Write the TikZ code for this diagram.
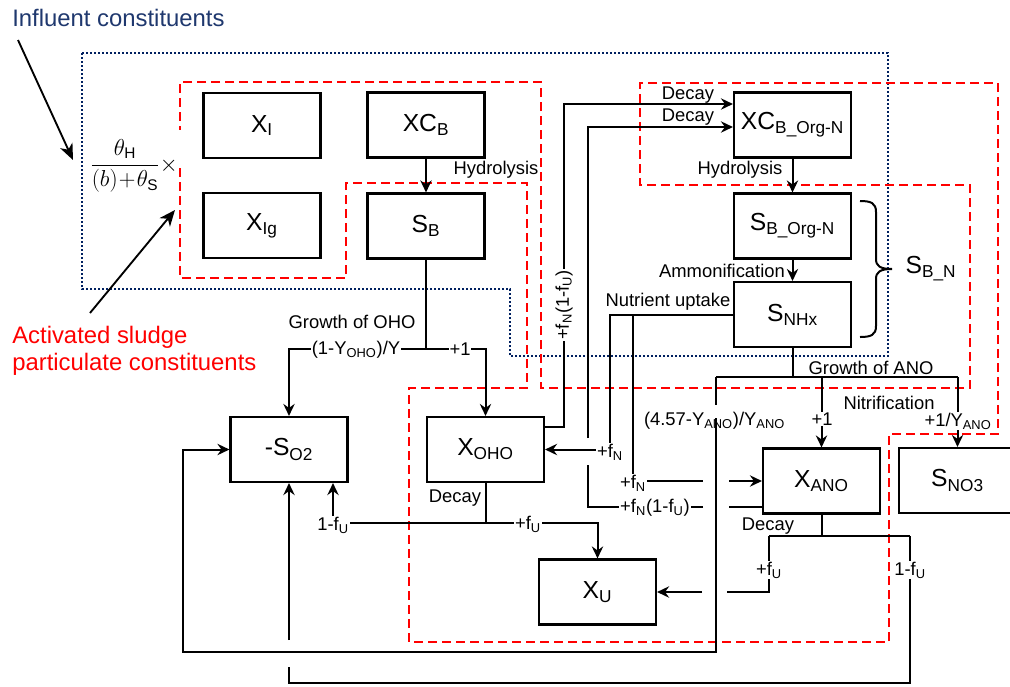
\documentclass[tikz,border=0pt]{standalone}
\usepackage{amsmath}
\usepackage{fontspec}
\setmainfont{Liberation Sans}
\usetikzlibrary{arrows.meta}
\definecolor{navy}{RGB}{0,32,96}
\definecolor{navytxt}{RGB}{31,56,110}
\newcommand\lblfont{\fontsize{13.8}{16}\selectfont}
\newcommand\boxfont{\fontsize{18.5}{22}\selectfont}
\newcommand\annfont{\fontsize{17.9}{20.25}\selectfont}
\begin{document}
\begin{tikzpicture}[x=0.75pt,y=-0.75pt,
  cbox/.style={draw,line width=1.6pt,minimum width=87.75pt,minimum height=48.75pt,inner sep=0pt,font=\boxfont},
  conn/.style={line width=1.5pt},
  lbl/.style={font=\lblfont,inner sep=1pt},
  lblw/.style={lbl,fill=white,inner sep=0.6pt},
  reg/.style={draw=red,line width=1.5pt,dash pattern=on 6.5pt off 4pt},
  infreg/.style={draw=navy,line width=1.9pt,dash pattern=on 1.5pt off 1.5pt},
  annarrow/.style={line width=1.4pt,-{Stealth[length=12pt,width=10pt,inset=3.5pt]}},
  >={Stealth[length=9pt,width=8.5pt,inset=3pt]}
]
\useasboundingbox (0,0) rectangle (1010,686);

% regions
\draw[infreg] (82,53) -- (888,53) -- (888,356) -- (510,356) -- (510,289) -- (82,289) -- cycle;
\draw[reg] (180,168) -- (180,278) -- (346,278) -- (346,183) -- (527,183) -- (527,388) -- (409,388) -- (409,642) -- (889,642) -- (889,434) -- (998,434) -- (998,83) -- (640,83) -- (640,185) -- (970,185) -- (970,388) -- (541,388) -- (541,82) -- (180,82) -- (180,130);

% boxes
\node[cbox] (XI) at (262,125.5) {X\textsubscript{I}};
\node[cbox] (XIg) at (262,225.5) {X\textsubscript{Ig}};
\node[cbox] (XCB) at (426,125) {XC\textsubscript{B}};
\node[cbox] (SB) at (426,226) {S\textsubscript{B}};
\node[cbox] (XCBN) at (792.5,125) {XC\textsubscript{B\_Org-N}};
\node[cbox] (SBN) at (792.5,226) {S\textsubscript{B\_Org-N}};
\node[cbox] (SNH) at (792.5,314.5) {S\textsubscript{NHx}};
\node[cbox] (SO2) at (289,449.5) {-S\textsubscript{O2}};
\node[cbox] (XOHO) at (485.5,449.5) {X\textsubscript{OHO}};
\node[cbox] (XU) at (597.5,592) {X\textsubscript{U}};
\node[cbox] (XANO) at (821.5,481) {X\textsubscript{ANO}};
\begin{scope}
\clip (0,0) rectangle (1010,686);
\node[cbox] (SNO3) at (957.5,480.5) {S\textsubscript{NO3}};
\end{scope}

% brace
\draw[line width=1.5pt] (860,201) .. controls (871,201) and (876,203) .. (876,212) -- (876,259)
  .. controls (876,266) and (880,269) .. (892,269)
  .. controls (880,269) and (876,272) .. (876,279) -- (876,326)
  .. controls (876,335) and (871,337) .. (860,337);
\node[font=\boxfont] (SBNlab) at (931,269) {S\textsubscript{B\_N}};

% hydrolysis / ammonification
\draw[conn,->] (XCB.south) -- (SB.north);
\draw[conn,->] (XCBN.south) -- (SBN.north);
\draw[conn,->] (SBN.south) -- (SNH.north);

% OHO growth
\coordinate (gO) at (426,349);
\draw[conn] (SB.south) -- (gO);
\draw[conn,->] (gO) -| (SO2.north);
\draw[conn,->] (gO) -| (XOHO.north);

% X_OHO -> XC_B_Org-N
\coordinate (a1) at (564,427);
\coordinate (a2) at (564,104);
\draw[conn,->] (XOHO.east |- a1) -- (a1) -- (a2) -- (XCBN.west |- a2);

% X_ANO -> XC_B_Org-N
\coordinate (b1) at (729,507);
\coordinate (b2) at (703,507);
\coordinate (b3) at (588,507);
\coordinate (b4) at (588,465);
\coordinate (b5) at (588,438);
\coordinate (b6) at (588,127);
\draw[conn] (XANO.west |- b1) -- (b1);
\draw[conn] (b2) -- (b3) -- (b4);
\draw[conn,->] (b5) -- (b6) -- (XCBN.west |- b6);

% nutrient uptake
\coordinate (n1) at (610,314.5);
\coordinate (n2) at (633,314.5);
\coordinate (n3) at (610,449.5);
\coordinate (n4) at (633,481);
\coordinate (n5) at (703,481);
\coordinate (n6) at (729,481);
\draw[conn,->] (SNH.west) -- (n1) -- (n3) -- (XOHO.east);
\draw[conn] (n2) -- (n4) -- (n5);
\draw[conn,->] (n6) -- (XANO.west);

% ANO growth
\coordinate (c1) at (792.5,377);
\coordinate (c2) at (716,377);
\coordinate (c3) at (957.5,377);
\coordinate (c4) at (716,405);
\coordinate (c5) at (716,418);
\coordinate (c6) at (716,652);
\coordinate (c7) at (183,652);
\draw[conn] (SNH.south) -- (c1);
\draw[conn] (c2) -- (c3);
\draw[conn] (c2) -- (c4);
\draw[conn,->] (c5) -- (c6) -- (c7) |- (SO2.west);
\draw[conn,->] (XANO.north |- c1) -- (XANO.north);
\draw[conn,->] (c3) -- (SNO3.north);

% ANO decay
\coordinate (d1) at (821.5,536);
\coordinate (d2) at (769,536);
\coordinate (d3) at (910,536);
\coordinate (d4) at (769,592);
\coordinate (d5) at (727,592);
\coordinate (d6) at (702,592);
\coordinate (d7) at (910,683);
\coordinate (d8) at (289,683);
\coordinate (d9) at (289,667);
\coordinate (d10) at (289,640);
\draw[conn] (XANO.south) -- (d1);
\draw[conn] (d2) -- (d3);
\draw[conn] (d2) -- (d4) -- (d5);
\draw[conn,->] (d6) -- (XU.east);
\draw[conn] (d3) -- (d7) -- (d8) -- (d9);
\draw[conn,->] (d10) -- (SO2.south);

% OHO decay
\coordinate (e1) at (485.5,523);
\coordinate (e2) at (333,523);
\coordinate (e3) at (597.5,523);
\draw[conn] (XOHO.south) -- (e1);
\draw[conn,->] (e1) -- (e2) -- (e2 |- SO2.south);
\draw[conn,->] (e1) -- (e3) -- (XU.north);

% labels
\node[lbl] (lHyd1) at (496,170) {Hydrolysis};
\node[lbl] (lGO) at (352,322) {Growth of OHO};
\node[lblw] (lYO) at (356,350) {(1-Y\textsubscript{OHO})/Y};
\node[lblw] (lP1) at (460,349) {+1};
\node[lblw,rotate=90] (lfn1) at (564,305) {+f\textsubscript{N}(1-f\textsubscript{U})};
\node[lbl] (lDec1) at (688,95) {Decay};
\node[lbl] (lDec2) at (688,117) {Decay};
\node[lbl] (lHyd2) at (740,170) {Hydrolysis};
\node[lbl] (lAmm) at (722,271) {Ammonification};
\node[lbl] (lNut) at (668,302) {Nutrient uptake};
\node[lblw] (lfn2) at (610,452) {+f\textsubscript{N}};
\node[lblw] (lfn3) at (633,483) {+f\textsubscript{N}};
\node[lblw] (lfn4) at (655,508) {+f\textsubscript{N}(1-f\textsubscript{U})};
\node[lbl] (lGA) at (871,368) {Growth of ANO};
\node[lbl] (lNit) at (889,403) {Nitrification};
\node[lbl] (lYA) at (714.5,421) {(4.57-Y\textsubscript{ANO})/Y\textsubscript{ANO}};
\node[lblw] (lP2) at (822,419) {+1};
\node[lblw] (lP3) at (958,421) {+1/Y\textsubscript{ANO}};
\node[lbl] (lDec3) at (768,526) {Decay};
\node[lblw] (lfu1) at (769,570) {+f\textsubscript{U}};
\node[lblw] (lfu2) at (910,570) {1-f\textsubscript{U}};
\node[lbl] (lDec4) at (455,498) {Decay};
\node[lblw] (lfu3) at (333,525) {1-f\textsubscript{U}};
\node[lblw] (lfu4) at (528,524) {+f\textsubscript{U}};

% left annotations
\node[font=\annfont,text=navytxt,anchor=base west,inner sep=0pt] (infl) at (12,26) {Influent constituents};
\coordinate (inflS) at (18,40);
\coordinate (inflT) at (73,160);
\draw[annarrow] (inflS) -- (inflT);
\node[font=\annfont,text=red,anchor=base west,inner sep=0pt] (asp1) at (12,343) {Activated sludge};
\node[font=\annfont,text=red,anchor=base west,inner sep=0pt] (asp2) at (12,370) {particulate constituents};
\coordinate (aspS) at (90,313);
\coordinate (aspT) at (175,210);
\draw[annarrow] (aspS) -- (aspT);
\node[inner sep=0pt,font=\fontsize{16.5}{19}\selectfont] (frac) at (134,166) {$\dfrac{\theta_{\mathrm{H}}}{(b)\!+\!\theta_{\mathrm{S}}}\times$};
\end{tikzpicture}
\end{document}
